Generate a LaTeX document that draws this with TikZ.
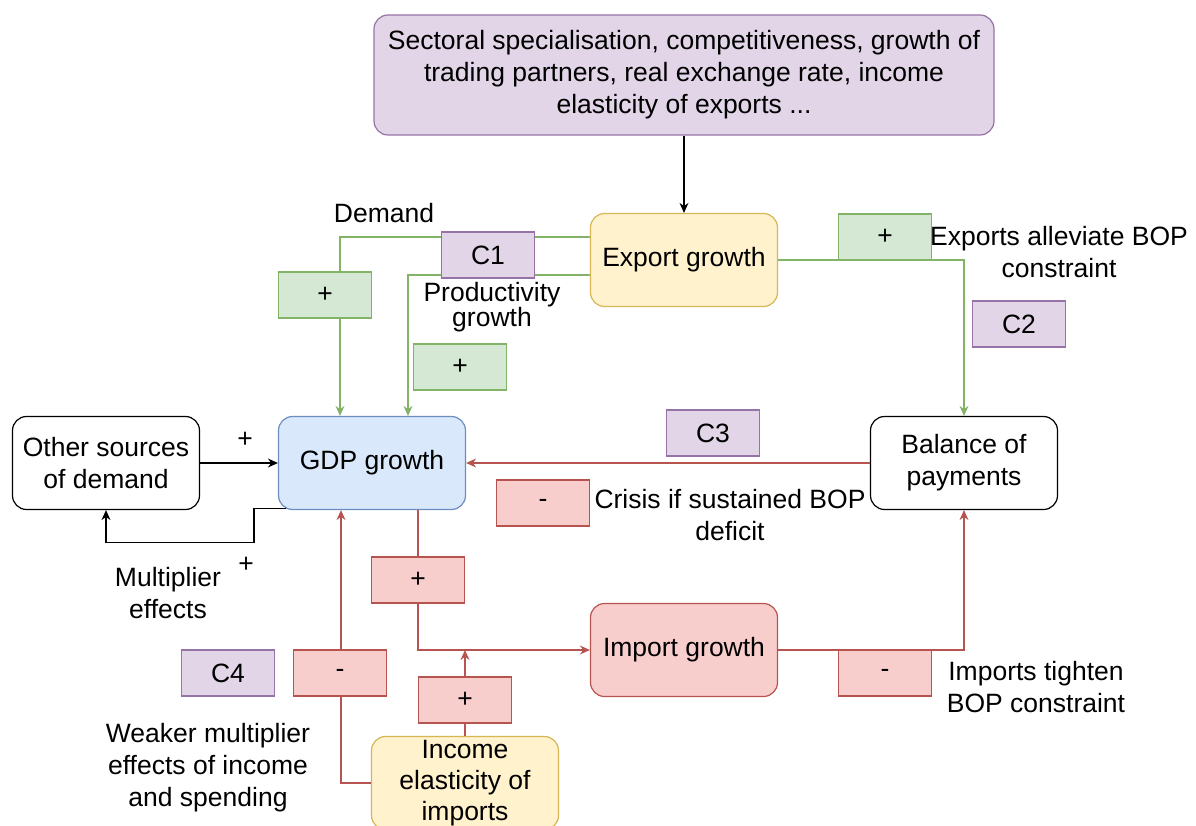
\documentclass[tikz,border=0pt]{standalone}
\usepackage{fontspec}
\setmainfont{Liberation Sans}
\usetikzlibrary{arrows.meta}
\definecolor{purfill}{HTML}{E1D5E7}
\definecolor{purline}{HTML}{9673A6}
\definecolor{yelfill}{HTML}{FFF2CC}
\definecolor{yelline}{HTML}{D6B656}
\definecolor{bluefill}{HTML}{DAE8FC}
\definecolor{blueline}{HTML}{6C8EBF}
\definecolor{redfill}{HTML}{F8CECC}
\definecolor{redline}{HTML}{B85450}
\definecolor{grnfill}{HTML}{D5E8D4}
\definecolor{grnline}{HTML}{82B366}
\tikzstyle{factor}=[rectangle,rounded corners=14pt,draw=black,fill=white,
                    line width=1.2pt,minimum width=187pt,minimum height=93pt,
                    align=center,inner sep=2pt]
\tikzstyle{tagbox}=[rectangle,line width=1.2pt,minimum width=93pt,
                    minimum height=46pt,inner sep=0pt]
\tikzstyle{ctag}=[tagbox,draw=purline,fill=purfill]
\tikzstyle{gtag}=[tagbox,draw=grnline,fill=grnfill]
\tikzstyle{rtag}=[tagbox,draw=redline,fill=redfill]
\tikzstyle{note}=[align=center,inner sep=0pt]
\tikzstyle{karrow}=[draw=black,line width=1.2pt,-{Stealth[length=10pt,width=9pt]}]
\tikzstyle{garrow}=[draw=grnline,line width=1.2pt,-{Stealth[length=10pt,width=9pt]}]
\tikzstyle{rarrow}=[draw=redline,line width=1.2pt,-{Stealth[length=10pt,width=9pt]}]

\begin{document}
\begin{tikzpicture}[x=1pt,y=-1pt,
    every node/.style={font=\fontsize{26.5}{32}\selectfont}]
    \useasboundingbox (0,0) rectangle (1196,826);
    % main boxes
    \node (drv) at (684, 75) [factor,draw=purline,fill=purfill,
        minimum width=620pt,minimum height=120pt]
        {Sectoral specialisation, competitiveness, growth of\\
         trading partners, real exchange rate, income\\
         elasticity of exports ...};
    \node (exp) at (684,260) [factor,draw=yelline,fill=yelfill]{Export growth};
    \node (gdp) at (372,463) [factor,draw=blueline,fill=bluefill]{GDP growth};
    \node (oth) at (106,463) [factor]{Other sources\\of demand};
    \node (bop) at (964,463) [factor]{Balance of\\payments};
    \node (imp) at (684,650) [factor,draw=redline,fill=redfill]{Import growth};
    \node (inc) at (465,783) [factor,draw=yelline,fill=yelfill,
        font=\fontsize{26.5}{31}\selectfont]{Income\\elasticity of\\imports};
    % connectors
    \draw[karrow] (drv.south) -- (exp.north);
    \draw[garrow] ([yshift=23pt]exp.west) -| ([xshift=-32pt]gdp.north);
    \draw[garrow] ([yshift=-15pt]exp.west) -| ([xshift=36pt]gdp.north);
    \draw[garrow] (exp.east) -| (bop.north);
    \draw[rarrow] (bop.west) -- (gdp.east);
    \draw[rarrow] ([xshift=46pt]gdp.south) |- (imp.west);
    \draw[rarrow] (imp.east) -| (bop.south);
    \draw[rarrow] (inc.north) -- (inc.north |- imp.west);
    \draw[rarrow] (inc.west) -| ([xshift=-31pt]gdp.south);
    \draw[karrow] (oth.east) -- (gdp.west);
    \draw[karrow] ([xshift=8pt,yshift=2pt]gdp.south west) -- ++(-32,0)
        -- ++(0,34) -| (oth.south);
    % tags on the links
    \node (c1) at (488,255) [ctag]{C1};
    \node (c2) at (1019,324) [ctag]{C2};
    \node (c3) at (713,433) [ctag]{C3};
    \node (c4) at (228,673) [ctag]{C4};
    \node (g1) at (325,295) [gtag]{+};
    \node (g2) at (460,367) [gtag]{+};
    \node (g3) at (885,237) [gtag]{+};
    \node (r1) at (543,503) [rtag]{-};
    \node (r2) at (418,580) [rtag]{+};
    \node (r3) at (885,673) [rtag]{-};
    \node (r4) at (340,673) [rtag]{-};
    \node (r5) at (465,700) [rtag]{+};
    % texts
    \node (tdem) at (384,213) [note]{Demand};
    \node (tpro) at (492,307) [note,font=\fontsize{26.5}{20}\selectfont]
        {Productivity\\growth};
    \node (texa) at (1059,252) [note]{Exports alleviate BOP\\constraint};
    \node (tcri) at (730,515) [note]{Crisis if sustained BOP\\deficit};
    \node (timt) at (1036,687) [note]{Imports tighten\\BOP constraint};
    \node (twea) at (208,768) [note]{Weaker multiplier\\effects of income\\and spending};
    \node (tmul) at (168,593) [note]{Multiplier\\effects};
    \node (p1) at (245,440) [note]{+};
    \node (p2) at (246,565) [note]{+};
\end{tikzpicture}
\end{document}
